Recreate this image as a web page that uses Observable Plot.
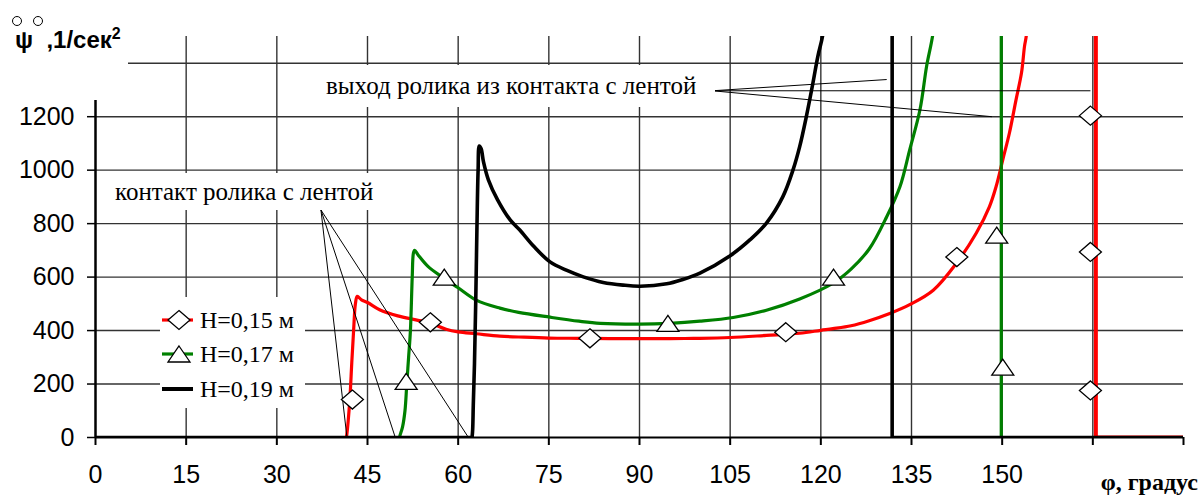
<!DOCTYPE html>
<html>
<head>
<meta charset="utf-8">
<script src="https://cdn.jsdelivr.net/npm/d3@7"></script>
<script src="https://cdn.jsdelivr.net/npm/@observablehq/plot@0.6"></script>
<style>
  html, body { margin: 0; padding: 0; background: #fff; }
  #wrap { position: relative; width: 1204px; height: 497px; overflow: hidden; }
  .box { position: absolute; background: #fff; }
  .serif { font-family: "Liberation Serif", "Times New Roman", serif; color: #000; }
</style>
</head>
<body>
<div id="wrap"></div>
<script>
// ---------- data (φ, градус ; ψ̈, 1/сек²) ----------
const xTicks = [0, 15, 30, 45, 60, 75, 90, 105, 120, 135, 150, 165, 180];
const xTickLabels = ["0", "15", "30", "45", "60", "75", "90", "105", "120", "135", "150", "", ""];
const yTicks = [0, 200, 400, 600, 800, 1000, 1200];
const yGrid = [200, 400, 600, 800, 1000, 1200, 1400];
const xGrid = [15, 30, 45, 60, 75, 90, 105, 120, 135, 150, 165];

const seriesNames = ["H=0,15 м", "H=0,17 м", "H=0,19 м"];
const seriesColors = ["#ff0000", "#008000", "#000000"];

// contact part of each curve (starts where ψ leaves zero, ends above the chart top)
const curveH015 = [
  [41.5,0],[41.6,15],[41.8,60],[42.1,150],[42.4,280],[42.7,400],[43.0,500],[43.3,528],
  [44,515],[45,505],[47,478],[50,455],[53,440],[55.4,428],[58,405],[60,395],[63,388],
  [66.9,379],[70,376],[75,372],[80,371],[85,370],[90,370],[95,370],[100,371],[105,374],
  [111,382],[116.5,390],[120,401],[122,407],[125,418],[128,437],[131.4,464],[134.7,497],
  [138.6,551],[142.4,651],[145.7,764],[147.9,864],[149.0,939],[150.1,1039],[151.2,1139],
  [152.3,1264],[153.2,1364],[153.7,1464],[154.0,1504],[154.6,1700]
];
const curveH017 = [
  [50.3,0],[50.4,10],[50.8,40],[51.2,100],[51.5,200],[51.8,300],[52.1,400],[52.4,600],
  [52.6,690],[52.8,700],[53.4,682],[55,640],[57.5,598],[60,560],[63,514],[66.9,484],
  [70,468],[75.2,450],[80,435],[83.5,427],[90,424],[95,427],[100,435],[105.5,449],
  [111,476],[116.5,518],[122,577],[125,630],[128,705],[130.9,826],[133.1,939],
  [134.7,1076],[136.4,1226],[137.5,1389],[138.5,1504],[139.2,1650]
];
const curveH019 = [
  [62.3,0],[62.4,30],[62.5,120],[62.7,277],[62.9,500],[63.1,776],[63.3,1000],[63.5,1090],
  [63.8,1080],[64.2,1030],[65,964],[66.5,890],[68.6,814],[70.2,776],[72.5,715],[75.2,657],
  [78,625],[80.7,601],[84,580],[87.3,570],[90.1,566],[94.5,575],[97,590],[100,615],
  [105,680],[108.3,740],[111,802],[113.7,900],[115.4,1001],[116.5,1088],[117.6,1200],
  [118.7,1327],[119.5,1425],[120.3,1504],[120.8,1620]
];
// φ where each curve comes back down as a vertical line (exit from contact)
const exitPhi = [165.5, 149.85, 131.8];

// markers
const markersH015 = [[42.5,142],[55.4,431],[81.8,371],[114.2,394],[142.5,675],[164.6,1204],[164.6,694],[164.6,176]];
const markersH017 = [[51.4,210],[57.7,600],[94.7,427],[122.1,600],[149.1,757],[150.1,263]];

// annotation leaders  [x1,y1,x2,y2]
const leadersContact = [[37.3,851,41.6,0],[37.3,851,49.6,0],[37.3,851,61.7,0]];
const leadersExit = [[102.1,1297,130.9,1339],[102.1,1297,164.6,1297],[102.1,1297,148.3,1200]];

const labelContact = "контакт ролика с лентой";
const labelExit = "выход ролика из контакта с лентой";
const yTitle = ",1/сек";
const xTitle = "φ, градус";

// ---------- symbols ----------
const diamondSym = { draw(ctx) { ctx.moveTo(0,-9.5); ctx.lineTo(11,0); ctx.lineTo(0,9.5); ctx.lineTo(-11,0); ctx.closePath(); } };
const triangleSym = { draw(ctx) { ctx.moveTo(0,-8); ctx.lineTo(11,8); ctx.lineTo(-11,8); ctx.closePath(); } };

const X = d => d[0], Y = d => d[1];
const curves = [curveH015, curveH017, curveH019];
const widths = [3.2, 3.2, 3.6];

const seriesMarks = curves.flatMap((cv, i) => [
  Plot.line([[0, 0], cv[0]], { x: X, y: Y, stroke: seriesColors[i], strokeWidth: widths[i], clip: true }),
  Plot.line(cv, { x: X, y: Y, stroke: seriesColors[i], strokeWidth: widths[i], curve: "catmull-rom", clip: true }),
  Plot.line([[exitPhi[i], 6000], [exitPhi[i], 0], [180, 0]], { x: X, y: Y, stroke: seriesColors[i], strokeWidth: i === 0 ? 4 : widths[i], clip: true })
]);

const chart = Plot.plot({
  width: 1204, height: 497,
  marginLeft: 95, marginRight: 21, marginTop: 36, marginBottom: 60,
  x: { domain: [0, 180] },
  y: { domain: [0, 1500] },
  style: { fontFamily: "'Liberation Sans', Arial, sans-serif", fontSize: "25px", color: "#000", background: "#fff", overflow: "visible" },
  marks: [
    Plot.ruleX(xGrid, { y1: 0, y2: 1500, stroke: "#333", strokeWidth: 1.4 }),
    Plot.ruleY(yGrid, { x1: 0, x2: 180, stroke: "#333", strokeWidth: 1.4 }),
    ...seriesMarks,
    Plot.ruleY([0], { x1: 0, x2: 180, stroke: "#000", strokeWidth: 2 }),
    Plot.ruleX([0], { y1: 0, y2: 1500, stroke: "#000", strokeWidth: 2.5 }),
    Plot.axisX({ ticks: xTicks, tickSize: 8, tickPadding: 20, tickFormat: d => xTickLabels[xTicks.indexOf(d)], label: null, stroke: "#000", strokeWidth: 2 }),
    Plot.axisY({ ticks: yTicks, tickSize: 8, tickPadding: 13, tickFormat: d => String(d), label: null, stroke: "#000", strokeWidth: 1.5 }),
    Plot.link(leadersContact, { x1: d => d[0], y1: d => d[1], x2: d => d[2], y2: d => d[3], stroke: "#000", strokeWidth: 1 }),
    Plot.link(leadersExit, { x1: d => d[0], y1: d => d[1], x2: d => d[2], y2: d => d[3], stroke: "#000", strokeWidth: 1 }),
    Plot.dot(markersH015, { x: X, y: Y, symbol: diamondSym, fill: "#fff", stroke: "#000", strokeWidth: 1.3 }),
    Plot.dot(markersH017, { x: X, y: Y, symbol: triangleSym, fill: "#fff", stroke: "#000", strokeWidth: 1.3 })
  ]
});

const wrap = document.getElementById("wrap");
wrap.appendChild(chart);

// title box (covers the top-left corner)
const t = document.createElement("div");
t.className = "box";
t.style.cssText = "left:0;top:0;width:128px;height:100px;";
t.innerHTML = `
  <div style="position:absolute;left:12px;top:16px;width:8px;height:8px;border:1.3px solid #000;border-radius:50%;"></div>
  <div style="position:absolute;left:33px;top:16px;width:8px;height:8px;border:1.3px solid #000;border-radius:50%;"></div>
  <div style="position:absolute;left:15px;top:28px;font:bold 24px 'Liberation Sans',Arial,sans-serif;line-height:24px;white-space:nowrap;color:#000;">ψ&nbsp;&nbsp;${yTitle}<span style="font-size:16px;position:relative;top:-9px;">2</span></div>`;
wrap.appendChild(t);

// exit annotation
const e = document.createElement("div");
e.className = "box serif";
e.style.cssText = "left:315px;top:65px;width:400px;height:42px;line-height:42px;font-size:25px;padding-left:11px;box-sizing:border-box;white-space:nowrap;";
e.textContent = labelExit;
wrap.appendChild(e);

// contact annotation
const c = document.createElement("div");
c.className = "box serif";
c.style.cssText = "left:100px;top:173px;width:285px;height:37px;line-height:37px;font-size:25px;padding-left:15px;box-sizing:border-box;white-space:nowrap;";
c.textContent = labelContact;
wrap.appendChild(c);

// legend
const lg = document.createElement("div");
lg.className = "box serif";
lg.style.cssText = "left:160px;top:297px;width:145px;height:111px;";
const rowsY = [23, 57, 92];
let svg = `<svg width="145" height="111" style="position:absolute;left:0;top:0">`;
rowsY.forEach((ry, i) => {
  svg += `<line x1="2" x2="33" y1="${ry}" y2="${ry}" stroke="${seriesColors[i]}" stroke-width="${i===2?4:3.2}"/>`;
  if (i === 0) svg += `<path transform="translate(19,${ry})" d="M0,-9.5L11,0L0,9.5L-11,0Z" fill="#fff" stroke="#000" stroke-width="1.3"/>`;
  if (i === 1) svg += `<path transform="translate(19,${ry})" d="M0,-8L11,8L-11,8Z" fill="#fff" stroke="#000" stroke-width="1.3"/>`;
});
svg += `</svg>`;
lg.innerHTML = svg + seriesNames.map((n, i) =>
  `<div style="position:absolute;left:40px;top:${rowsY[i]-15}px;font-size:24px;line-height:30px;white-space:nowrap;">${n}</div>`).join("");
wrap.appendChild(lg);

// x title
const xt = document.createElement("div");
xt.className = "serif";
xt.style.cssText = "position:absolute;right:6px;top:470px;font-weight:bold;font-size:24px;line-height:24px;white-space:nowrap;";
xt.textContent = xTitle;
wrap.appendChild(xt);
</script>
</body>
</html>
